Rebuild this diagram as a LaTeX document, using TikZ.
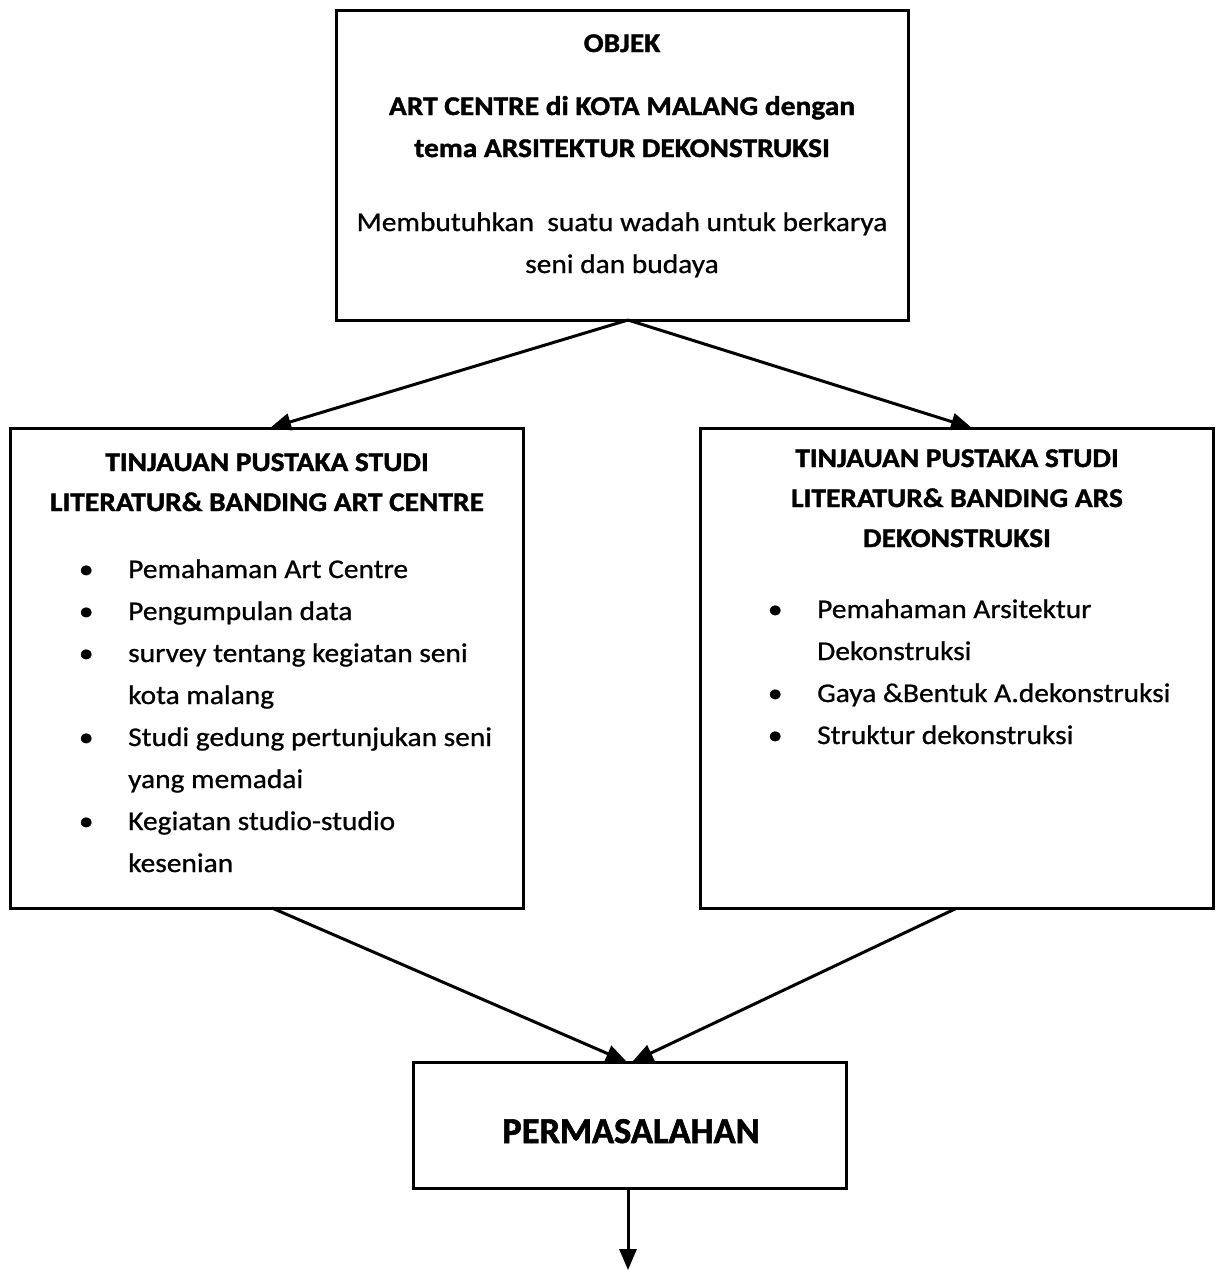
\documentclass[tikz,border=0pt]{standalone}
\usepackage{fontspec}
\setmainfont{Carlito}[FakeStretch=1.09,
  UprightFeatures={FakeBold=0.8},
  BoldFeatures={FakeBold=1.4}]
\newfontfamily\plainfont{Carlito}[BoldFeatures={FakeBold=1.6}]
\usetikzlibrary{arrows.meta}
% bullet placed on the left edge, text starting 42pt further right
\newcommand\itm{\makebox[42pt][l]{\makebox[0pt]{\textbullet}}}
% continuation line of a bullet item
\newcommand\cnt{\makebox[42pt][l]{}}
\begin{document}
\begin{tikzpicture}[x=1pt,y=-1pt,
  box/.style={draw, line width=3pt, inner sep=0pt, outer sep=0pt, anchor=north west},
  conn/.style={line width=3pt, -{Triangle[length=21pt,width=17pt]}},
  txt/.style={inner sep=0pt, font=\fontsize{27}{42}\selectfont},
  btxt/.style={inner sep=0pt, font=\fontsize{27}{42}\selectfont\bfseries},
  ttl/.style={inner sep=0pt, font=\fontsize{27}{40}\selectfont\bfseries},
]
\useasboundingbox (0,0) rectangle (1217,1270);

% boxes
\node[box, minimum width=572pt, minimum height=310pt] (top) at (336,10) {};
\node[box, minimum width=513pt, minimum height=480pt] (left) at (10,428) {};
\node[box, minimum width=513pt, minimum height=480pt] (right) at (700,428) {};
\node[box, minimum width=433pt, minimum height=126pt] (bottom) at (413,1062) {};

% object box
\node[btxt, anchor=base] (objek) at (622,52) {OBJEK};
\node[btxt, anchor=base] (nama) at (622,115) {\begin{tabular}[t]{@{}c@{}}ART CENTRE di KOTA MALANG dengan\\ tema ARSITEKTUR DEKONSTRUKSI\end{tabular}};
\node[txt, anchor=base] (wadah) at (622,231) {\begin{tabular}[t]{@{}c@{}}Membutuhkan\ \ suatu wadah untuk berkarya\\ seni dan budaya\end{tabular}};

% left study box
\node[ttl, anchor=base] (ltitle) at (267,471) {\begin{tabular}[t]{@{}c@{}}TINJAUAN PUSTAKA STUDI\\ LITERATUR\& BANDING ART CENTRE\end{tabular}};
\node[txt, anchor=base west] (llist) at (86,578) {\begin{tabular}[t]{@{}l@{}}
\itm Pemahaman Art Centre\\
\itm Pengumpulan data\\
\itm survey tentang kegiatan seni\\
\cnt kota malang\\
\itm Studi gedung pertunjukan seni\\
\cnt yang memadai\\
\itm Kegiatan studio-studio\\
\cnt kesenian
\end{tabular}};

% right study box
\node[ttl, anchor=base] (rtitle) at (957,467) {\begin{tabular}[t]{@{}c@{}}TINJAUAN PUSTAKA STUDI\\ LITERATUR\& BANDING ARS\\ DEKONSTRUKSI\end{tabular}};
\node[txt, anchor=base west] (rlist) at (775,618) {\begin{tabular}[t]{@{}l@{}}
\itm Pemahaman Arsitektur\\
\cnt Dekonstruksi\\
\itm Gaya \&Bentuk A.dekonstruksi\\
\itm Struktur dekonstruksi
\end{tabular}};

% problem box
\node[inner sep=0pt, font=\plainfont\fontsize{36.5}{42}\selectfont\bfseries, anchor=base] (masalah) at (631,1143) {PERMASALAHAN};

% connectors
\coordinate (out) at (628,1270);
\draw[conn] ([xshift=6pt]top.south) -- ([xshift=3.5pt]left.north);
\draw[conn] ([xshift=6pt]top.south) -- ([xshift=15.5pt]right.north);
\draw[conn] ([xshift=5.5pt]left.south) -- ([xshift=-2.5pt]bottom.north);
\draw[conn] ([xshift=0.5pt]right.south) -- ([xshift=2.5pt]bottom.north);
\draw[conn] (bottom.south -| out) -- (out);
\end{tikzpicture}
\end{document}
